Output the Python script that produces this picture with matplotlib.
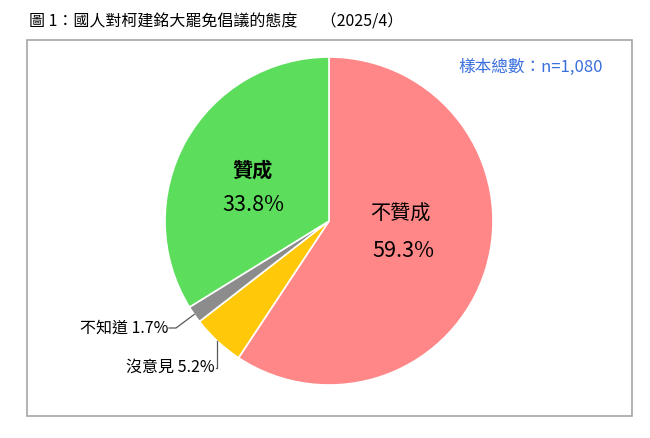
import numpy as np
from matplotlib import pyplot as plt
from matplotlib.patches import Rectangle

plt.rcParams['font.family'] = ['Noto Sans CJK TC', 'DejaVu Sans']

# data
labels = ["不贊成", "沒意見", "不知道", "贊成"]
values = [59.3, 5.2, 1.7, 33.8]
colors = ["#FF8787", "#FFC808", "#8C8C8C", "#5CDE5C"]
title = "圖 1：國人對柯建銘大罷免倡議的態度　  （2025/4）"
sample_note = "樣本總數：n=1,080"

W, H = 650, 438
fig = plt.figure(figsize=(6.5, 4.38), dpi=100)
# axes in pixel units, y flipped so 0 = bottom of figure
ax = fig.add_axes([0, 0, 1, 1])

# frame box
ax.add_patch(Rectangle((27, H - 416), 605, 376, fill=False, edgecolor="#A6A6A6", lw=1.2))

cx, cy, r = 329, H - 221, 164
wedges, _ = ax.pie(values, colors=colors, startangle=90, counterclock=False,
                   center=(cx, cy), radius=r, frame=True,
                   wedgeprops=dict(edgecolor="white", linewidth=1.2))
ax.set_xlim(0, W)
ax.set_ylim(0, H)
ax.set_aspect("equal")
ax.axis("off")


def edge(w):
    a = np.deg2rad((w.theta1 + w.theta2) / 2)
    return cx + r * np.cos(a), cy + r * np.sin(a)


# big inside labels
ax.text(400, H - 214, labels[0], fontsize=14.5, fontweight="medium",
        ha="center", va="center")
ax.text(403, H - 251, "%.1f%%" % values[0], fontsize=15.5, ha="center", va="center")
ax.text(252, H - 170, labels[3], fontsize=14.5, fontweight="bold",
        ha="center", va="center")
ax.text(253, H - 205, "%.1f%%" % values[3], fontsize=15.5, ha="center", va="center")

# small outside labels with leader lines
ex, ey = edge(wedges[2])
ax.plot([ex, 176, 169], [ey, H - 328, H - 328], color="#595959", lw=0.9)
ax.text(168, H - 328, "%s %.1f%%" % (labels[2], values[2]), fontsize=11.5,
        ha="right", va="center")

ex, ey = edge(wedges[1])
ax.plot([ex, ex, 216], [ey, H - 368, H - 368], color="#595959", lw=0.9)
ax.text(215, H - 367, "%s %.1f%%" % (labels[1], values[1]), fontsize=11.5,
        ha="right", va="center")

ax.text(531, H - 67, sample_note, fontsize=12, color="#3A6FDC",
        fontweight="medium", ha="center", va="center")

fig.text(29 / W, 1 - 22 / H, title, fontsize=11.5, ha="left", va="center")

plt.savefig("out.png", dpi=100)
